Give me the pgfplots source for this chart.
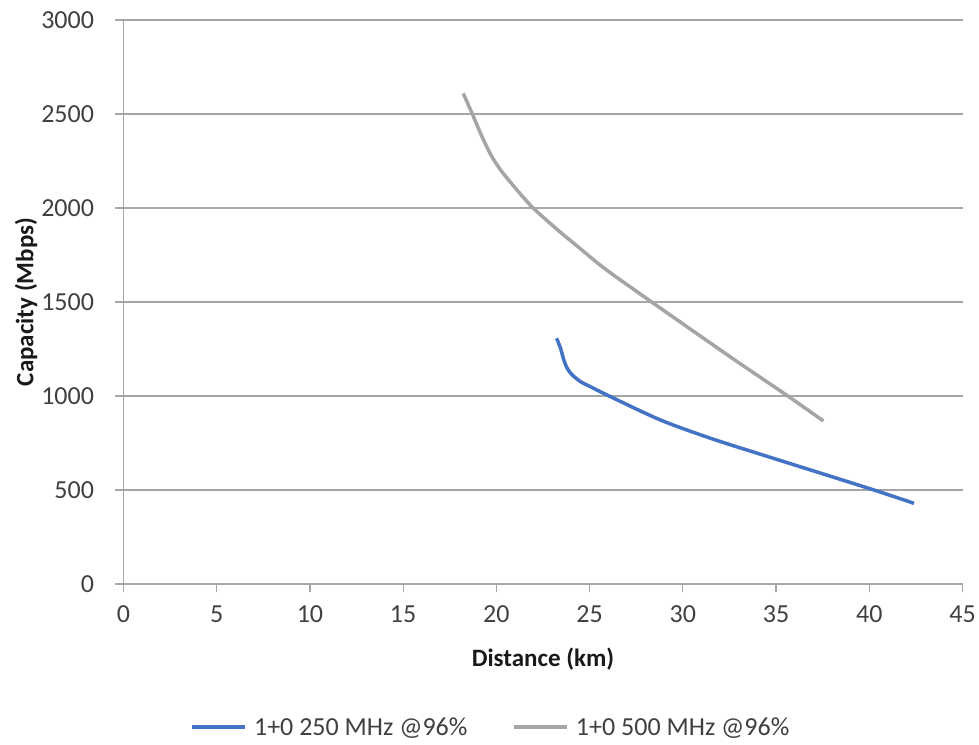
\documentclass[border=0pt]{standalone}
\usepackage{pgfplots}
\pgfplotsset{compat=1.18}
\usepackage{fontspec}
\setmainfont{Carlito}
\definecolor{cblue}{HTML}{4472C4}
\definecolor{cgray}{HTML}{A5A5A5}
\definecolor{cgrid}{HTML}{A6A6A6}
\definecolor{ctext}{HTML}{404040}
\begin{document}
\begin{tikzpicture}
\useasboundingbox (-123.5pt,-160pt) rectangle (855.5pt,584pt);
\begin{axis}[
  at={(0,0)}, anchor=south west,
  scale only axis,
  width=839pt, height=564pt,
  xmin=0, xmax=45, ymin=0, ymax=3000,
  xtick={0,5,...,45}, ytick={0,500,...,3000},
  axis x line*=bottom, axis y line*=left,
  axis line style={cgrid, line width=1.2pt},
  every tick/.style={cgrid, line width=1.2pt},
  tick align=outside, major tick length=8pt,
  ymajorgrids, grid style={cgrid, line width=1.2pt},
  /pgf/number format/assume math mode=true,
  /pgf/number format/1000 sep={},
  tick label style={font=\fontsize{26}{30}\selectfont, text=ctext},
  xticklabel style={anchor=north, yshift=-10pt},
  yticklabel style={anchor=east, xshift=-18pt},
  xlabel={\textbf{Distance (km)}},
  ylabel={\textbf{Capacity (Mbps)}},
  label style={font=\fontsize{25}{30}\selectfont, text=black!90},
  xlabel style={at={(axis description cs:0.5,-0.1454)}, anchor=base},
  ylabel style={at={(axis description cs:-0.1073,0.5)}, anchor=base, rotate=0},
  legend style={at={(axis description cs:0.4368,-0.2535)}, anchor=center, draw=none, legend columns=2,
    font=\fontsize{26}{30}\selectfont, text=ctext, inner sep=0pt,
    nodes={inner sep=0pt},
    /tikz/every odd column/.append style={column sep=7pt},
    /tikz/every even column/.append style={column sep=45pt}},
  legend image code/.code={\draw[#1, line width=3.5pt] (0pt,0pt) -- (53pt,0pt);},
]
\addplot[cblue, line width=3.5pt, smooth, tension=0.5] coordinates {
(23.23,1307) (23.44,1254) (23.62,1191) (23.8,1147) (24.07,1112) (24.52,1076)
(25.05,1049) (26.13,996) (28.81,872) (31.49,775) (34.17,690) (36.32,623) (40.25,500) (42.4,429)};
\addlegendentry{1+0 250 MHz @96\%}
\addplot[cgray, line width=3.5pt, smooth, tension=0.5] coordinates {
(18.22,2610) (18.71,2500) (19.15,2397) (19.69,2285) (20.23,2202) (20.94,2115)
(21.93,2004) (23.27,1885) (24.52,1782) (25.86,1674) (28.27,1504) (32.56,1207) (35.69,996) (37.54,867)};
\addlegendentry{1+0 500 MHz @96\%}
\end{axis}
\end{tikzpicture}
\end{document}
